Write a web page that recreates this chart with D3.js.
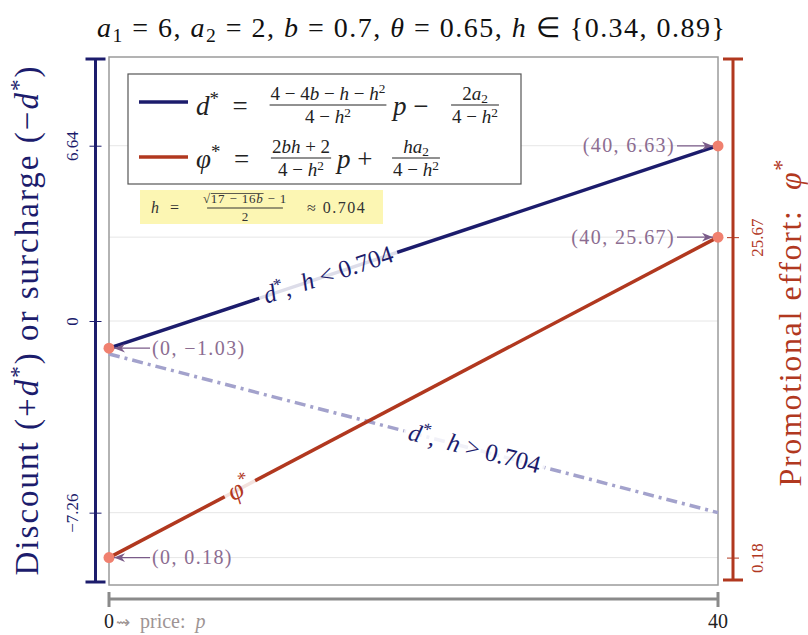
<!DOCTYPE html>
<html>
<head>
<meta charset="utf-8">
<script src="https://cdn.jsdelivr.net/npm/d3@7"></script>
<style>
body { margin: 0; background: #fff; }
text { font-family: "Liberation Serif", "Times New Roman", serif; white-space: pre; }
</style>
</head>
<body>
<svg width="808" height="635"></svg>
<script>
// data
var prices = [0, 40];
var dLow = [-1.03, 6.64];     // d*, h = 0.34 (< 0.704)
var dHigh = [-1.25, -7.26];   // d*, h = 0.89 (> 0.704)
var phi = [0.18, 25.67];      // phi*, h = 0.34
var leftTicks = [-7.26, 0, 6.64];
var rightTicks = [0.18, 25.67];
var xTicks = [0, 40];
var annPrices = [0, 40, 0, 40];
var annValues = [-1.03, 6.63, 0.18, 25.67];
var annAxis = ['L', 'L', 'R', 'R'];
var annLabels = ['(0, \u22121.03)', '(40, 6.63)', '(0, 0.18)', '(40, 25.67)'];

var navy = '#1c1c6c', red = '#b1381f', lav = '#a3a2cc', salmon = '#f0806f';
var purple = '#8c6d91', arrowCol = '#7a5b89';

var svg = d3.select('svg');
var box = {l: 109, r: 718, t: 57, b: 585};

var x = d3.scaleLinear().domain([0, 40]).range([box.l, box.r]);
var yL = d3.scaleLinear().domain([-10, 10]).range([box.b, box.t]);
var yR = d3.scaleLinear().domain([-2, 40]).range([box.b, box.t]);

function addMath(t, parts, fs) {
    var shift = 0;
    parts.forEach(function(p) {
        var k = p[1] || '';
        var off = 0, size = fs;
        if (k.indexOf('sub') >= 0) { off = fs * 0.18; size = fs * 0.7; }
        if (k.indexOf('sup') >= 0) { off = -fs * 0.36; size = fs * 0.7; }
        t.append('tspan').text(p[0])
            .attr('dy', off - shift)
            .attr('font-size', size)
            .attr('font-style', k.charAt(0) === 'i' ? 'italic' : null);
        shift = off;
    });
    return t;
}

function frac(g, cx, yb, num, den, fs, col) {
    var n = g.append('text').attr('x', cx).attr('y', yb - 5).attr('text-anchor', 'middle').attr('fill', col);
    addMath(n, num, fs);
    var d = g.append('text').attr('x', cx).attr('y', yb + fs * 0.97).attr('text-anchor', 'middle').attr('fill', col);
    addMath(d, den, fs);
    var w = Math.max(n.node().getComputedTextLength(), d.node().getComputedTextLength());
    g.append('line').attr('x1', cx - w / 2 - 1).attr('x2', cx + w / 2 + 1)
        .attr('y1', yb).attr('y2', yb).attr('stroke', col).attr('stroke-width', 1);
    return n;
}

// grid
var gridYs = leftTicks.map(yL).concat(rightTicks.map(yR));
svg.append('g').selectAll('line').data(gridYs).join('line')
    .attr('x1', box.l).attr('x2', box.r)
    .attr('y1', function(d) { return d; }).attr('y2', function(d) { return d; })
    .attr('stroke', '#e6e6e6').attr('stroke-width', 1);

svg.append('rect').attr('x', box.l).attr('y', box.t)
    .attr('width', box.r - box.l).attr('height', box.b - box.t)
    .attr('fill', 'none').attr('stroke', '#9b9b9b').attr('stroke-width', 1.5);

// lines
function pts(vals) { return prices.map(function(p, i) { return {p: p, v: vals[i]}; }); }
var lineL = d3.line().x(function(d) { return x(d.p); }).y(function(d) { return yL(d.v); });
var lineR = d3.line().x(function(d) { return x(d.p); }).y(function(d) { return yR(d.v); });

svg.append('path').attr('d', lineL(pts(dHigh))).attr('fill', 'none')
    .attr('stroke', lav).attr('stroke-width', 3.5).attr('stroke-dasharray', '11,5,3,5');
svg.append('path').attr('d', lineR(pts(phi))).attr('fill', 'none')
    .attr('stroke', red).attr('stroke-width', 3.5);
svg.append('path').attr('d', lineL(pts(dLow))).attr('fill', 'none')
    .attr('stroke', navy).attr('stroke-width', 3.5);

// labels sitting on the lines
function lineLabel(vals, sy, t, parts, col, fs) {
    var x0 = x(prices[0]), y0 = sy(vals[0]), x1 = x(prices[1]), y1 = sy(vals[1]);
    var cx = x0 + t * (x1 - x0), cy = y0 + t * (y1 - y0);
    var ang = Math.atan2(y1 - y0, x1 - x0) * 180 / Math.PI;
    var g = svg.append('g').attr('transform', 'translate(' + cx + ',' + cy + ') rotate(' + ang + ')');
    var r = g.append('rect');
    var txt = g.append('text').attr('text-anchor', 'middle').attr('y', fs * 0.3).attr('fill', col);
    addMath(txt, parts, fs);
    var w = txt.node().getComputedTextLength();
    r.attr('x', -w / 2 - 5).attr('y', -6).attr('width', w + 10).attr('height', 12)
        .attr('fill', '#fff').attr('opacity', 0.85);
}
lineLabel(dLow, yL, 0.36, [['d', 'i'], ['*', 'sup'], [',  ', ''], ['h', 'i'], [' < 0.704', '']], navy, 25);
lineLabel(dHigh, yL, 0.6, [['d', 'i'], ['*', 'sup'], [',  ', ''], ['h', 'i'], [' > 0.704', '']], navy, 25);
lineLabel(phi, yR, 0.215, [['\u03c6', 'i'], ['*', 'sup']], red, 27);

// end points and annotations
svg.append('defs').append('marker').attr('id', 'ah')
    .attr('viewBox', '0 0 10 10').attr('refX', 10).attr('refY', 5)
    .attr('markerWidth', 11).attr('markerHeight', 11).attr('markerUnits', 'userSpaceOnUse')
    .attr('orient', 'auto')
    .append('path').attr('d', 'M0,1 L10,5 L0,9 L3,5 Z').attr('fill', arrowCol);

annPrices.forEach(function(p, i) {
    var px = x(p), py = annAxis[i] === 'L' ? yL(annValues[i]) : yR(annValues[i]);
    svg.append('circle').attr('cx', px).attr('cy', py).attr('r', 5.5).attr('fill', salmon);
    var t = svg.append('text').attr('y', py + 6.5).attr('fill', purple)
        .attr('font-size', 20).attr('letter-spacing', 1.4).text(annLabels[i]);
    if (p === 0) {
        svg.append('line').attr('x1', px + 41).attr('x2', px + 5).attr('y1', py).attr('y2', py)
            .attr('stroke', arrowCol).attr('stroke-width', 1.2).attr('marker-end', 'url(#ah)');
        t.attr('x', px + 43);
    } else {
        svg.append('line').attr('x1', px - 41).attr('x2', px - 5).attr('y1', py).attr('y2', py)
            .attr('stroke', arrowCol).attr('stroke-width', 1.2).attr('marker-end', 'url(#ah)');
        t.attr('x', px - 43).attr('text-anchor', 'end');
    }
});

// legend
var lg = svg.append('g');
lg.append('rect').attr('x', 128).attr('y', 74).attr('width', 393).attr('height', 110)
    .attr('fill', '#fff').attr('stroke', '#555').attr('stroke-width', 1.2);
lg.append('line').attr('x1', 139).attr('x2', 188).attr('y1', 102).attr('y2', 102)
    .attr('stroke', navy).attr('stroke-width', 3.5);
lg.append('line').attr('x1', 139).attr('x2', 188).attr('y1', 157).attr('y2', 157)
    .attr('stroke', red).attr('stroke-width', 3.5);
var ink = '#222';
var den = [['4 \u2212 ', ''], ['h', 'i'], ['2', 'sup']];
addMath(lg.append('text').attr('x', 196).attr('y', 115).attr('fill', ink),
    [['d', 'i'], ['*', 'sup'], ['  = ', '']], 27);
frac(lg, 328, 105, [['4 \u2212 4', ''], ['b', 'i'], [' \u2212 ', ''], ['h', 'i'], [' \u2212 ', ''], ['h', 'i'], ['2', 'sup']],
    den, 19, ink);
addMath(lg.append('text').attr('x', 393).attr('y', 115).attr('fill', ink),
    [['p', 'i'], [' \u2212', '']], 27);
frac(lg, 475, 105, [['2', ''], ['a', 'i'], ['2', 'sub']], den, 19, ink);

addMath(lg.append('text').attr('x', 196).attr('y', 168).attr('fill', ink),
    [['\u03c6', 'i'], ['*', 'sup'], ['  = ', '']], 27);
frac(lg, 301, 158, [['2', ''], ['bh', 'i'], [' + 2', '']], den, 19, ink);
addMath(lg.append('text').attr('x', 337).attr('y', 168).attr('fill', ink),
    [['p', 'i'], [' +', '']], 27);
frac(lg, 416, 158, [['ha', 'i'], ['2', 'sub']], den, 19, ink);

// threshold note
var ng = svg.append('g');
ng.append('rect').attr('x', 140).attr('y', 190).attr('width', 243).attr('height', 34).attr('fill', '#fcf6b3');
addMath(ng.append('text').attr('x', 151).attr('y', 213).attr('fill', '#333').attr('letter-spacing', 1),
    [['h', 'i'], ['  =', '']], 16);
var nn = frac(ng, 245, 208, [['\u221a', ''], ['17 \u2212 16', ''], ['b', 'i'], [' \u2212 1', '']], [['2', '']], 13, '#333');
nn.attr('letter-spacing', 0.8);
var s0 = nn.node().getStartPositionOfChar(1).x, s1 = nn.node().getEndPositionOfChar(8).x;
ng.append('line').attr('x1', s0).attr('x2', s1).attr('y1', 193.5).attr('y2', 193.5)
    .attr('stroke', '#333').attr('stroke-width', 0.8);
ng.append('text').attr('x', 307).attr('y', 213).attr('fill', '#333').attr('font-size', 16)
    .attr('letter-spacing', 1.5).text('\u2248 0.704');

// left axis
var fmt = function(d) { return d === 0 ? '0' : d3.format('.2f')(d); };
var gl = svg.append('g').attr('transform', 'translate(95.5,0)')
    .call(d3.axisLeft(yL).tickValues(leftTicks).tickFormat(fmt).tickSizeInner(6).tickSizeOuter(0))
    .attr('color', navy).attr('font-size', 17).attr('font-family', null);
gl.select('.domain').remove();
gl.selectAll('.tick line').attr('x1', 6).attr('stroke-width', 1);
gl.selectAll('.tick text').attr('x', null).attr('dy', null)
    .attr('text-anchor', 'middle').attr('transform', 'translate(-17.5,0) rotate(-90)');
gl.append('line').attr('x1', 0).attr('x2', 0).attr('y1', 59).attr('y2', 582)
    .attr('stroke', navy).attr('stroke-width', 3);
gl.selectAll('.cap').data([59, 582]).join('line').attr('class', 'cap')
    .attr('x1', -10).attr('x2', 10).attr('y1', function(d) { return d; }).attr('y2', function(d) { return d; })
    .attr('stroke', navy).attr('stroke-width', 3);

// right axis
var gr = svg.append('g').attr('transform', 'translate(733,0)')
    .call(d3.axisRight(yR).tickValues(rightTicks).tickFormat(d3.format('.2f')).tickSizeInner(6).tickSizeOuter(0))
    .attr('color', red).attr('font-size', 17).attr('font-family', null);
gr.select('.domain').remove();
gr.selectAll('.tick line').attr('x1', -6).attr('stroke-width', 1);
gr.selectAll('.tick text').attr('x', null).attr('dy', null)
    .attr('text-anchor', 'middle').attr('transform', 'translate(29.5,0) rotate(-90)');
gr.append('line').attr('x1', 0).attr('x2', 0).attr('y1', 59).attr('y2', 580)
    .attr('stroke', red).attr('stroke-width', 3);
gr.selectAll('.cap').data([59, 580]).join('line').attr('class', 'cap')
    .attr('x1', -10).attr('x2', 10).attr('y1', function(d) { return d; }).attr('y2', function(d) { return d; })
    .attr('stroke', red).attr('stroke-width', 3);

// x axis bar
var gx = svg.append('g').attr('transform', 'translate(0,599)');
gx.append('line').attr('x1', x(0)).attr('x2', x(40)).attr('y1', 0).attr('y2', 0)
    .attr('stroke', '#8a8a8a').attr('stroke-width', 3);
gx.selectAll('.cap').data(xTicks).join('line').attr('class', 'cap')
    .attr('x1', function(d) { return x(d); }).attr('x2', function(d) { return x(d); })
    .attr('y1', -7).attr('y2', 8).attr('stroke', '#8a8a8a').attr('stroke-width', 3);
gx.selectAll('.lab').data(xTicks).join('text').attr('class', 'lab')
    .attr('x', function(d) { return x(d); }).attr('y', 29)
    .attr('text-anchor', 'middle').attr('font-size', 20).attr('fill', '#222')
    .text(function(d) { return d; });
var xt = gx.append('text').attr('x', 116).attr('y', 29).attr('fill', '#9e9494');
addMath(xt, [['\u21dd', ''], ['  price:  ', ''], ['p', 'i']], 20);
xt.select('tspan').attr('font-size', 17);

// titles
var tt = svg.append('text').attr('x', 411).attr('y', 37).attr('text-anchor', 'middle')
    .attr('fill', '#111').attr('textLength', 628).attr('lengthAdjust', 'spacing');
addMath(tt, [['a', 'i'], ['1', 'sub'], [' = 6, ', ''], ['a', 'i'], ['2', 'sub'], [' = 2, ', ''],
    ['b', 'i'], [' = 0.7, ', ''], ['\u03b8', 'i'], [' = 0.65, ', ''], ['h', 'i'], [' \u2208 {0.34, 0.89}', '']], 28);

var lt = svg.append('text').attr('transform', 'translate(38,321) rotate(-90)')
    .attr('text-anchor', 'middle').attr('fill', navy)
    .attr('textLength', 509).attr('lengthAdjust', 'spacing');
addMath(lt, [['Discount (+', ''], ['d', 'i'], ['*', 'sup'], [') or surcharge (\u2212', ''], ['d', 'i'], ['*', 'sup'], [')', '']], 33);

var rt = svg.append('text').attr('transform', 'translate(801,323) rotate(-90)')
    .attr('text-anchor', 'middle').attr('fill', red)
    .attr('textLength', 327).attr('lengthAdjust', 'spacing');
addMath(rt, [['Promotional effort:  ', ''], ['\u03c6', 'i'], ['*', 'sup']], 32);
</script>
</body>
</html>
